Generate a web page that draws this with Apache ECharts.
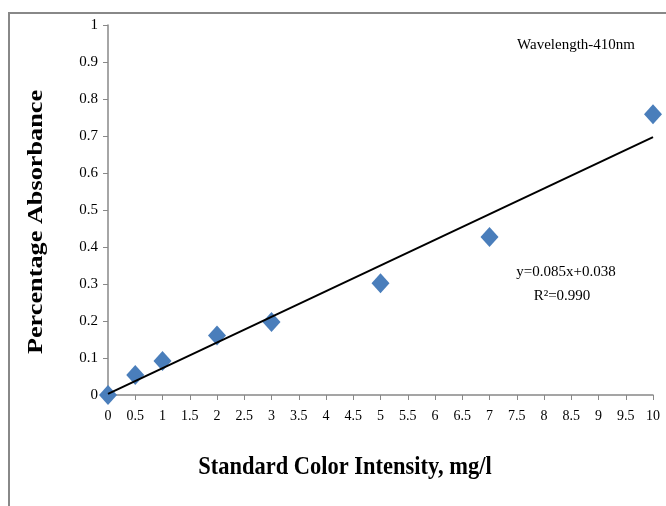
<!DOCTYPE html>
<html><head><meta charset="utf-8">
<script src="https://cdn.jsdelivr.net/npm/echarts@6/dist/echarts.min.js"></script>
<style>html,body{margin:0;padding:0;background:#fff}#c{width:666px;height:506px}</style>
</head><body><div id="c"></div>
<script>
const concentration = [0, 0.5, 1, 2, 3, 5, 7, 10];
const absorbance = [0, 0.054, 0.092, 0.161, 0.197, 0.302, 0.427, 0.759];
const trendX = [0, 10];
const trendY = [0.003, 0.697];
const xTitle = 'Standard Color Intensity, mg/l';
const yTitle = 'Percentage Absorbance';
const noteText = 'Wavelength-410nm';
const eqText = 'y=0.085x+0.038';
const r2Text = 'R²=0.990';

const serif = '"Liberation Serif","Times New Roman",serif';
const chart = echarts.init(document.getElementById('c'));
chart.setOption({
  animation: false,
  backgroundColor: '#fff',
  grid: {left: 108, right: 13, top: 25, bottom: 111},
  xAxis: {
    type: 'value', min: 0, max: 10, interval: 0.5,
    axisLine: {show: true, lineStyle: {color: '#888', width: 1.5}},
    axisTick: {show: true, length: 5, lineStyle: {color: '#888'}},
    splitLine: {show: false},
    axisLabel: {fontFamily: serif, fontSize: 14, color: '#000', margin: 14}
  },
  yAxis: {
    type: 'value', min: 0, max: 1, interval: 0.1,
    axisLine: {show: true, lineStyle: {color: '#888', width: 1.5}},
    axisTick: {show: true, length: 5, lineStyle: {color: '#888'}},
    splitLine: {show: false},
    axisLabel: {fontFamily: serif, fontSize: 15, color: '#000', margin: 10}
  },
  graphic: [
    {type: 'rect', silent: true, z: -1, shape: {x: 9, y: 13, width: 720, height: 600},
     style: {fill: 'none', stroke: '#888', lineWidth: 2}},
    {type: 'text', x: 37, y: 222, rotation: Math.PI / 2, scaleX: 1.25,
     style: {text: yTitle, font: 'bold 21px ' + serif, fill: '#000', textAlign: 'center', textVerticalAlign: 'middle'}},
    {type: 'text', x: 345, y: 468, scaleY: 1.15, scaleX: 1.07,
     style: {text: xTitle, font: 'bold 21px ' + serif, fill: '#000', textAlign: 'center', textVerticalAlign: 'middle'}},
    {type: 'text', x: 576, y: 45,
     style: {text: noteText, font: '15px ' + serif, fill: '#000', textAlign: 'center', textVerticalAlign: 'middle'}},
    {type: 'text', x: 566, y: 272,
     style: {text: eqText, font: '15px ' + serif, fill: '#000', textAlign: 'center', textVerticalAlign: 'middle'}},
    {type: 'text', x: 562, y: 296,
     style: {text: r2Text, font: '15px ' + serif, fill: '#000', textAlign: 'center', textVerticalAlign: 'middle'}}
  ],
  series: [
    {type: 'line', data: trendX.map((x, i) => [x, trendY[i]]), showSymbol: false, symbol: 'none',
     lineStyle: {color: '#000', width: 2}, z: 3},
    {type: 'scatter', data: concentration.map((x, i) => [x, absorbance[i]]), symbol: 'diamond', symbolSize: [18, 20],
     itemStyle: {color: '#4a7ebb', opacity: 1}, z: 2}
  ]
});
</script></body></html>
